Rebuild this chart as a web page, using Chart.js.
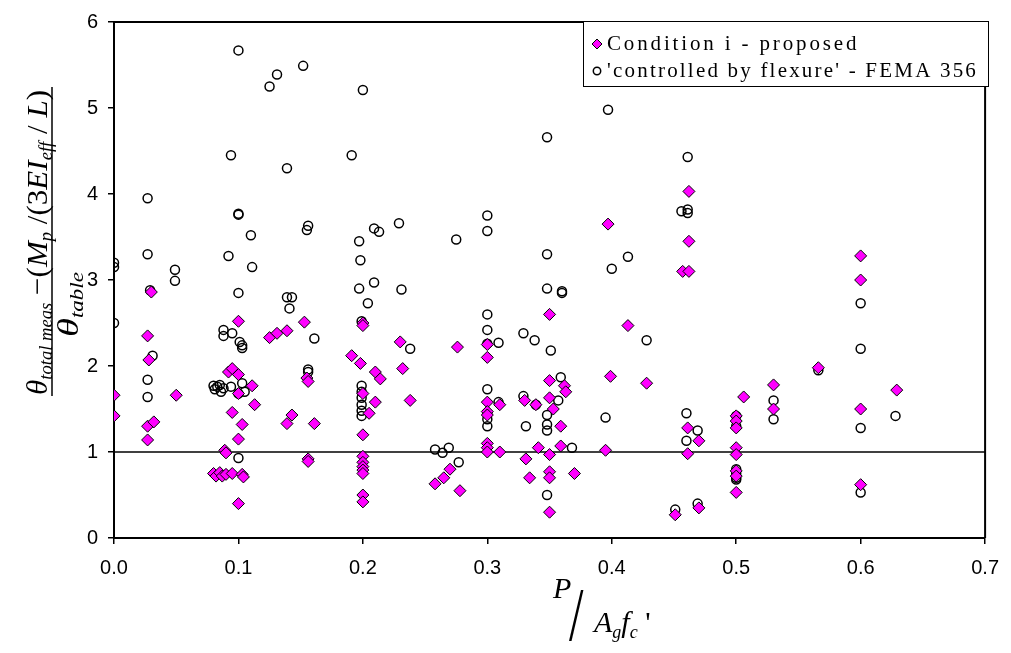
<!DOCTYPE html>
<html><head><meta charset="utf-8">
<script src="https://cdn.jsdelivr.net/npm/chart.js@4.4.0/dist/chart.umd.min.js"></script>
<style>html,body{margin:0;padding:0;background:#fff}#wrap{position:relative;width:1011px;height:653px}</style>
</head><body><div id="wrap"><canvas id="c" width="1011" height="653"></canvas></div>
<script>
// ---- data ----
const seriesNames = ['Condition i - proposed', "'controlled by flexure' - FEMA 356"];
const xTickLabels = ['0.0','0.1','0.2','0.3','0.4','0.5','0.6','0.7'];
const yTickLabels = ['0','1','2','3','4','5','6'];
const referenceLineX = [0, 0.7];
const referenceLineY = [1, 1];

const conditionX = [0,0,0.027,0.028,0.03,0.027,0.032,0.027,0.05,
  0.08,0.082,0.085,0.087,0.089,0.09,0.09,0.092,0.095,0.095,0.095,
  0.1,0.1,0.1,0.1,0.1,0.103,0.103,0.104,0.111,0.113,
  0.125,0.131,0.139,0.139,0.143,0.153,0.155,0.156,0.156,0.156,0.161,
  0.191,0.198,0.2,0.2,0.2,0.2,0.2,0.2,0.2,0.2,0.2,0.2,0.2,
  0.205,0.21,0.21,0.214,0.23,0.232,0.238,
  0.258,0.265,0.27,0.276,0.278,
  0.3,0.3,0.3,0.3,0.3,0.3,0.3,0.3,0.31,0.31,
  0.33,0.331,0.334,0.339,0.341,
  0.35,0.35,0.35,0.353,0.359,0.362,0.363,0.359,0.35,0.35,0.35,0.37,0.35,
  0.397,0.399,0.413,0.428,0.395,
  0.451,0.462,0.462,0.457,0.462,0.461,0.461,0.47,0.47,
  0.5,0.5,0.5,0.5,0.5,0.5,0.5,0.5,0.506,
  0.53,0.53,0.566,0.6,0.6,0.6,0.6,0.629];
const conditionY = [1.66,1.42,2.35,2.07,2.86,1.3,1.35,1.14,1.66,
  0.75,0.72,0.76,0.72,1.02,0.99,0.74,1.93,1.97,1.46,0.75,
  2.52,1.9,1.68,1.15,0.4,1.32,0.74,0.71,1.77,1.55,
  2.33,2.38,2.41,1.33,1.43,2.51,1.86,1.82,0.92,0.89,1.33,
  2.12,2.03,2.5,2.47,1.68,1.2,0.95,0.88,0.83,0.79,0.75,0.5,0.42,
  1.45,1.93,1.58,1.85,2.28,1.97,1.6,
  0.63,0.7,0.8,2.22,0.55,
  2.25,2.1,1.58,1.47,1.43,1.1,1.05,1.0,1.55,1.0,
  1.6,0.92,0.7,1.55,1.05,
  2.6,1.83,1.63,1.5,1.3,1.77,1.7,1.07,0.97,0.77,0.7,0.75,0.3,
  3.65,1.88,2.47,1.8,1.02,
  0.27,4.03,3.45,3.1,3.1,1.28,0.98,1.13,0.35,
  1.42,1.36,1.28,1.05,0.97,0.78,0.72,0.53,1.64,
  1.78,1.5,1.98,3.28,3.0,1.5,0.62,1.72];

const femaX = [0,0,0,0.027,0.027,0.029,0.031,0.027,0.027,0.049,0.049,
  0.08,0.081,0.083,0.085,0.086,0.088,0.088,0.088,0.092,0.094,0.095,0.094,
  0.1,0.1,0.1,0.1,0.101,0.103,0.103,0.1,0.103,0.105,0.1,0.11,0.111,
  0.125,0.131,0.139,0.139,0.143,0.141,0.152,0.155,0.156,0.156,0.156,0.161,
  0.191,0.2,0.197,0.198,0.197,0.204,0.199,0.209,0.209,0.213,0.229,0.231,0.238,
  0.199,0.199,0.199,0.199,0.199,0.199,
  0.258,0.264,0.269,0.277,0.275,
  0.3,0.3,0.3,0.3,0.3,0.309,0.3,0.3,0.3,0.3,0.309,
  0.329,0.338,0.348,0.348,0.348,0.36,0.36,0.351,0.329,0.339,0.331,
  0.348,0.348,0.348,0.359,0.357,0.368,0.348,
  0.397,0.4,0.413,0.428,0.395,
  0.451,0.461,0.456,0.461,0.461,0.46,0.46,0.469,0.469,
  0.5,0.5,0.5,0.5,0.5,0.5,0.53,0.53,0.566,0.6,0.6,0.6,0.6,0.628];
const femaY = [3.2,3.15,2.5,3.95,3.3,2.88,2.12,1.84,1.64,3.12,2.99,
  1.77,1.73,1.76,1.78,1.7,1.74,2.42,2.35,3.28,4.45,2.38,1.76,
  5.67,3.77,3.76,2.85,2.28,2.24,2.21,1.68,1.8,1.7,0.93,3.52,3.15,
  5.25,5.39,4.3,2.8,2.8,2.67,5.49,3.58,3.63,1.96,1.93,2.32,
  4.45,5.21,3.45,3.23,2.9,2.73,2.52,2.97,3.6,3.56,3.66,2.89,2.2,
  1.77,1.7,1.63,1.55,1.48,1.42,
  1.03,0.99,1.05,0.88,3.47,
  3.75,3.57,2.6,2.42,2.26,2.27,1.73,1.45,1.38,1.3,1.58,
  2.38,2.3,4.66,3.3,2.9,2.87,2.85,2.18,1.65,1.55,1.3,
  1.43,1.32,1.25,1.87,1.6,1.05,0.5,
  4.98,3.13,3.27,2.3,1.4,
  0.33,4.43,3.8,3.82,3.78,1.45,1.13,1.25,0.4,
  1.42,1.3,0.8,0.75,0.7,0.68,1.6,1.38,1.95,2.73,2.2,1.28,0.53,1.42];

// ---- helpers ----
function pts(xs, ys){ return xs.map((x,i)=>({x:x, y:ys[i]})); }
const SERIF = '"Liberation Serif","Times New Roman",serif';
const SANS = '"Liberation Sans",Arial,sans-serif';
const MAGENTA = '#FF00FF';

function drawRuns(ctx, runs){
  let x = 0;
  runs.forEach(r=>{ ctx.font = r.f; ctx.fillText(r.t, x, r.dy||0); x += ctx.measureText(r.t).width; });
}
function runsWidth(ctx, runs){
  let w = 0; runs.forEach(r=>{ ctx.font = r.f; w += ctx.measureText(r.t).width; }); return w;
}
function drawRotatedFit(ctx, runs, baseX, yStart, yEnd){
  const s = (yStart - yEnd) / runsWidth(ctx, runs);
  ctx.save(); ctx.translate(baseX, yStart); ctx.rotate(-Math.PI/2); ctx.scale(s, 1); drawRuns(ctx, runs); ctx.restore();
}

const titlePlugin = {
  id: 'titles',
  afterDraw(chart){
    const ctx = chart.ctx; const a = chart.chartArea;
    ctx.save();
    // frame top & right
    ctx.strokeStyle = '#000'; ctx.lineWidth = 2;
    ctx.beginPath(); ctx.moveTo(a.left, a.top); ctx.lineTo(a.right, a.top); ctx.lineTo(a.right, a.bottom); ctx.stroke();

    ctx.fillStyle = '#000'; ctx.textBaseline = 'alphabetic'; ctx.textAlign = 'left';
    // ---- y title (fraction) ----
    const big = 'italic 30px ' + SERIF, bigU = '30px ' + SERIF, sub = 'italic 18px ' + SERIF;
    const num = [
      {t:'θ', f:big}, {t:'total meas', f:sub, dy:5}, {t:' −(', f:bigU}, {t:'M', f:big},
      {t:'p', f:sub, dy:5}, {t:' /(3', f:bigU}, {t:'EI', f:big}, {t:'eff', f:sub, dy:5},
      {t:' / ', f:bigU}, {t:'L', f:big}, {t:')', f:bigU}
    ];
    drawRotatedFit(ctx, num, 47, 395, 90);
    ctx.lineWidth = 1.5; ctx.beginPath(); ctx.moveTo(52, 396); ctx.lineTo(52, 87); ctx.stroke();
    const den = [{t:'θ', f:big}, {t:'table', f:sub, dy:5}];
    drawRotatedFit(ctx, den, 78, 337, 272);

    // ---- x title ----
    ctx.font = 'italic 30px ' + SERIF; ctx.fillText('P', 553, 598);
    ctx.save(); ctx.translate(569, 640); ctx.scale(1, 1.45); ctx.font = '52px ' + SERIF; ctx.fillText('/', 0, 0); ctx.restore();
    const xt = [{t:'A', f:big}, {t:'g', f:sub, dy:6}, {t:'f', f:big}, {t:'c', f:sub, dy:6}, {t:' \'', f:bigU}];
    ctx.save(); ctx.translate(594, 632); drawRuns(ctx, xt); ctx.restore();

    // ---- legend ----
    ctx.font = '21px ' + SERIF;
    const tx = 607, lx = 583, ly = 21, lh = 65, rightEdge = 988;
    ctx.fillStyle = '#fff'; ctx.fillRect(lx, ly, rightEdge - lx, lh);
    ctx.strokeStyle = '#000'; ctx.lineWidth = 1; ctx.strokeRect(lx + 0.5, ly + 0.5, rightEdge - lx, lh);
    ctx.fillStyle = '#000';
    if ('letterSpacing' in ctx) ctx.letterSpacing = '2.85px';
    ctx.fillText(seriesNames[0], tx, 50);
    if ('letterSpacing' in ctx) ctx.letterSpacing = '2.2px';
    ctx.fillText(seriesNames[1], tx, 77);
    if ('letterSpacing' in ctx) ctx.letterSpacing = '0px';
    // markers
    ctx.beginPath(); ctx.moveTo(597 - 5, 44); ctx.lineTo(597, 39); ctx.lineTo(597 + 5, 44); ctx.lineTo(597, 49); ctx.closePath();
    ctx.fillStyle = MAGENTA; ctx.fill(); ctx.lineWidth = 1; ctx.strokeStyle = '#000'; ctx.stroke();
    ctx.beginPath(); ctx.arc(597, 71, 3.7, 0, Math.PI*2); ctx.lineWidth = 1.5; ctx.stroke();
    ctx.restore();
  }
};

new Chart(document.getElementById('c').getContext('2d'), {
  type: 'scatter',
  data: { datasets: [
    { label: 'ref', data: pts(referenceLineX, referenceLineY), showLine: true, borderColor: '#000', borderWidth: 1.3, pointRadius: 0, order: 3 },
    { label: seriesNames[0], data: pts(conditionX, conditionY), pointStyle: 'rectRot', pointRadius: 6, pointHoverRadius: 6,
      backgroundColor: MAGENTA, borderColor: '#000', borderWidth: 1, order: 1 },
    { label: seriesNames[1], data: pts(femaX, femaY), pointStyle: 'circle', pointRadius: 4.5, pointHoverRadius: 4.5,
      backgroundColor: 'rgba(255,255,255,0)', borderColor: '#000', borderWidth: 1.5, order: 2 }
  ]},
  options: {
    responsive: false, animation: false, devicePixelRatio: 1,
    layout: { padding: { left: 0, top: 14, right: 16, bottom: 0 } },
    plugins: { legend: { display: false }, tooltip: { enabled: false } },
    scales: {
      x: {
        type: 'linear', min: 0, max: 0.7,
        afterFit(s){ s.height = 115; },
        afterBuildTicks(s){ s.ticks = xTickLabels.map(l => ({ value: parseFloat(l) })); },
        grid: { display: true, drawOnChartArea: false, drawTicks: true, tickLength: 6, color: '#000', lineWidth: 1.5 },
        border: { display: true, color: '#000', width: 2 },
        ticks: { color: '#000', padding: 12, maxRotation: 0, autoSkip: false, font: { family: SANS, size: 20 },
          callback: (v, i) => xTickLabels[i] }
      },
      y: {
        type: 'linear', min: 0, max: 6,
        afterFit(s){ s.width = 114; },
        afterBuildTicks(s){ s.ticks = yTickLabels.map(l => ({ value: parseFloat(l) })); },
        grid: { display: true, drawOnChartArea: false, drawTicks: true, tickLength: 6, color: '#000', lineWidth: 1.5 },
        border: { display: true, color: '#000', width: 2 },
        ticks: { color: '#000', padding: 10, font: { family: SANS, size: 20 }, callback: (v, i) => yTickLabels[i] }
      }
    }
  },
  plugins: [titlePlugin]
});
</script></body></html>
